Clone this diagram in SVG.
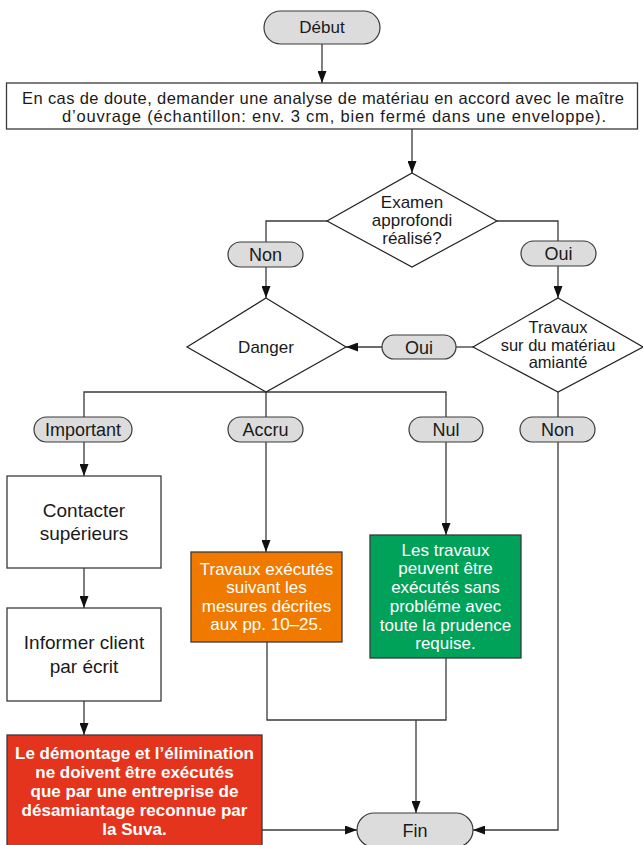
<svg xmlns="http://www.w3.org/2000/svg" width="643" height="845" viewBox="0 0 643 845">
<defs>
<marker id="arr" viewBox="0 0 12 9" refX="12" refY="4.5" markerWidth="12" markerHeight="9" markerUnits="userSpaceOnUse" orient="auto">
<path d="M0,0 L12,4.5 L0,9 z" fill="#111"/>
</marker>
<style>
text{font-family:"Liberation Sans",Arial,sans-serif;fill:#1a1a1a;text-anchor:middle}
.pill{fill:#dcdcdc;stroke:#3a3a3a;stroke-width:1.2}
.box{fill:#fff;stroke:#3a3a3a;stroke-width:1.3}
.dia{fill:#fff;stroke:#222;stroke-width:1.2}
.t17{font-size:17px}
.t18{font-size:18px}
.t19{font-size:19px}
.w{fill:#fff}
.b{font-weight:bold}
.c{fill:none;stroke:#3a3a3a;stroke-width:1.3}
.a{marker-end:url(#arr)}
</style>
</defs>
<rect width="643" height="845" fill="#fff"/>
<g id="connectors">
<path class="c a" d="M322,44 V83"/>
<path class="c a" d="M412,129 V173"/>
<path class="c" d="M327,221 H266 V242"/>
<path class="c a" d="M266,267 V298"/>
<path class="c" d="M497,221 H558 V241"/>
<path class="c a" d="M558,266 V298"/>
<path class="c" d="M473,347 H456"/>
<path class="c a" d="M382,347 H346"/>
<path class="c" d="M84,417 V392 H446 V417 M266,392 V417"/>
<path class="c" d="M558,392 V417"/>
<path class="c a" d="M84,442 V476"/>
<path class="c a" d="M84,568 V608"/>
<path class="c a" d="M84,701 V735"/>
<path class="c a" d="M266,442 V552"/>
<path class="c a" d="M446,442 V535"/>
<path class="c" d="M267,642 V720 H446 V658"/>
<path class="c a" d="M416,720 V813"/>
<path class="c a" d="M262,830 H357"/>
<path class="c a" d="M558,442 V830 H473"/>
</g>
<g id="debut">
<rect class="pill" x="264" y="11" width="116" height="33" rx="16.5"/>
<text class="t17" x="322" y="33">Début</text>
</g>
<g id="analyse">
<rect class="box" x="6.5" y="83" width="631" height="46"/>
<text x="323" y="103.5" style="font-size:16.5px" textLength="602">En cas de doute, demander une analyse de matériau en accord avec le maître</text>
<text x="334" y="121.5" style="font-size:16.5px" textLength="544">d’ouvrage (échantillon: env. 3 cm, bien fermé dans une enveloppe).</text>
</g>
<g id="examen">
<polygon class="dia" points="412,173 497,221 412,267 327,221"/>
<text class="t17" x="412" y="208">Examen</text>
<text class="t17" x="412" y="226">approfondi</text>
<text class="t17" x="412" y="244">réalisé?</text>
</g>
<g id="non1">
<rect class="pill" x="228" y="242" width="75" height="25" rx="12.5"/>
<text class="t18" x="265.5" y="261">Non</text>
</g>
<g id="oui1">
<rect class="pill" x="521" y="241" width="75" height="25" rx="12.5"/>
<text class="t18" x="558.5" y="260">Oui</text>
</g>
<g id="danger">
<polygon class="dia" points="266,298 346,347 266,392 187,347"/>
<text class="t17" x="266" y="353">Danger</text>
</g>
<g id="travaux">
<polygon class="dia" points="558,298 643,347 558,392 473,347"/>
<text x="558" y="333" style="font-size:16.5px">Travaux</text>
<text x="558" y="350.5" style="font-size:16.5px">sur du matériau</text>
<text x="558" y="368" style="font-size:16.5px">amianté</text>
</g>
<g id="oui2">
<rect class="pill" x="382" y="335" width="74" height="24" rx="12"/>
<text class="t18" x="419" y="353.5">Oui</text>
</g>
<g id="important">
<rect class="pill" x="34" y="417" width="98" height="25" rx="12.5"/>
<text class="t18" x="83" y="436">Important</text>
</g>
<g id="accru">
<rect class="pill" x="228" y="417" width="75" height="25" rx="12.5"/>
<text class="t18" x="265.5" y="436">Accru</text>
</g>
<g id="nul">
<rect class="pill" x="409" y="417" width="74" height="25" rx="12.5"/>
<text class="t18" x="446" y="436">Nul</text>
</g>
<g id="non2">
<rect class="pill" x="520" y="417" width="75" height="25" rx="12.5"/>
<text class="t18" x="557.5" y="436">Non</text>
</g>
<g id="contacter">
<rect class="box" x="7" y="476" width="154" height="92"/>
<text class="t19" x="84" y="517">Contacter</text>
<text class="t19" x="84" y="540">supérieurs</text>
</g>
<g id="informer">
<rect class="box" x="7" y="608" width="154" height="93"/>
<text class="t19" x="84" y="649">Informer client</text>
<text class="t19" x="84" y="673">par écrit</text>
</g>
<g id="demontage">
<rect x="7" y="735" width="255" height="115" fill="#e5341d" stroke="#3a3a3a" stroke-width="1.3"/>
<text class="t17 w b" x="134.5" y="759">Le démontage et l’élimination</text>
<text class="t17 w b" x="134.5" y="778">ne doivent être exécutés</text>
<text class="t17 w b" x="134.5" y="797">que par une entreprise de</text>
<text class="t17 w b" x="134.5" y="816">désamiantage reconnue par</text>
<text class="t17 w b" x="134.5" y="835">la Suva.</text>
</g>
<g id="accru-box">
<rect x="191" y="552" width="151" height="90" fill="#f07a00" stroke="#3a3a3a" stroke-width="1.3"/>
<text class="t17 w" x="266.5" y="575">Travaux exécutés</text>
<text class="t17 w" x="266.5" y="593">suivant les</text>
<text class="t17 w" x="266.5" y="612">mesures décrites</text>
<text class="t17 w" x="266.5" y="630">aux pp. 10–25.</text>
</g>
<g id="nul-box">
<rect x="370" y="535" width="151" height="123" fill="#00a25a" stroke="#3a3a3a" stroke-width="1.3"/>
<text class="t17 w" x="445.5" y="556">Les travaux</text>
<text class="t17 w" x="445.5" y="574">peuvent être</text>
<text class="t17 w" x="445.5" y="593">exécutés sans</text>
<text class="t17 w" x="445.5" y="612">probléme avec</text>
<text class="t17 w" x="445.5" y="631">toute la prudence</text>
<text class="t17 w" x="445.5" y="649">requise.</text>
</g>
<g id="fin">
<rect class="pill" x="357" y="813" width="116" height="34" rx="17"/>
<text class="t18" x="415" y="837">Fin</text>
</g>
</svg>
